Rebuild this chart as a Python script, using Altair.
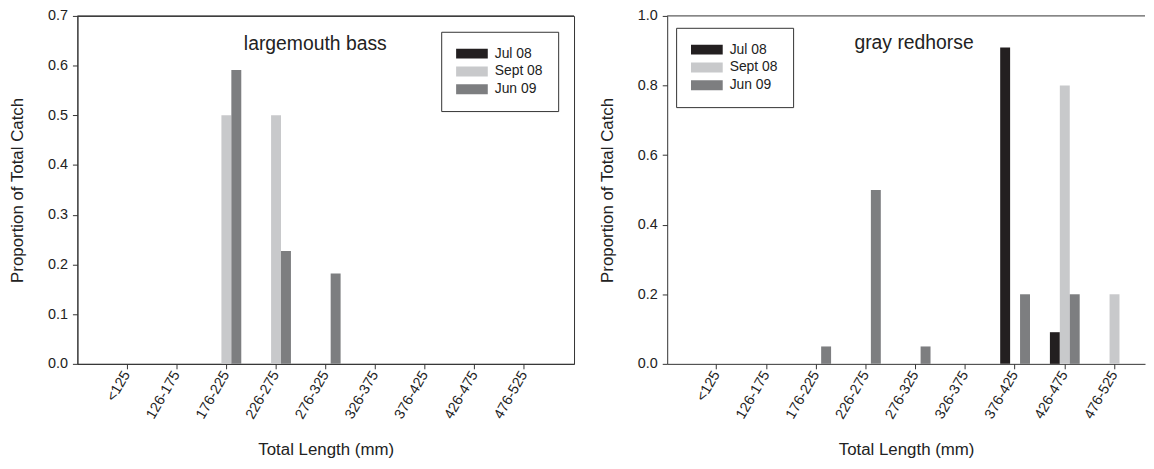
import altair as alt
import pandas as pd

categories = ["<125", "126-175", "176-225", "226-275", "276-325",
              "326-375", "376-425", "426-475", "476-525"]
series = ["Jul 08", "Sept 08", "Jun 09"]
colors = ["#231f20", "#c8c9cb", "#7d7e80"]

bass_jul08 = [0, 0, 0, 0, 0, 0, 0, 0, 0]
bass_sept08 = [0, 0, 0.5, 0.5, 0, 0, 0, 0, 0]
bass_jun09 = [0, 0, 0.591, 0.227, 0.182, 0, 0, 0, 0]

redhorse_jul08 = [0, 0, 0, 0, 0, 0, 0.909, 0.091, 0]
redhorse_sept08 = [0, 0, 0, 0, 0, 0, 0, 0.8, 0.2]
redhorse_jun09 = [0, 0, 0.05, 0.5, 0.05, 0, 0.2, 0.2, 0]

bass_ticks = [0.0, 0.1, 0.2, 0.3, 0.4, 0.5, 0.6, 0.7]
redhorse_ticks = [0.0, 0.2, 0.4, 0.6, 0.8, 1.0]

FONT = "Liberation Sans"
AXIS_COLOR = "#333333"
TEXT_COLOR = "#222222"


def frame(jul, sept, jun):
    rows = []
    for name, vals in zip(series, [jul, sept, jun]):
        for c, v in zip(categories, vals):
            rows.append({"length": c, "series": name, "value": v})
    return pd.DataFrame(rows)


def panel(df, title, ticks, width, x_scale, legend_x, legend_y,
          title_x, title_y):
    x = alt.X("length:N", sort=categories, scale=x_scale,
              axis=alt.Axis(title="Total Length (mm)", labelAngle=300,
                            labelAlign="right", labelBaseline="middle",
                            tickSize=5, labelPadding=3, titlePadding=21))
    y = alt.Y("value:Q",
              scale=alt.Scale(domain=[0, ticks[-1]], nice=False, zero=True),
              axis=alt.Axis(title="Proportion of Total Catch", values=ticks,
                            format=".1f", tickSize=5, labelPadding=5,
                            titlePadding=21, grid=False))
    bars = alt.Chart(df).mark_bar().encode(
        x=x,
        xOffset=alt.XOffset("series:N", sort=series,
                            scale=alt.Scale(domain=series, paddingInner=0,
                                            paddingOuter=1)),
        y=y,
        color=alt.Color(
            "series:N", sort=series,
            scale=alt.Scale(domain=series, range=colors),
            legend=alt.Legend(
                title=None, orient="none", legendX=legend_x,
                legendY=legend_y, direction="vertical",
                strokeColor=AXIS_COLOR, fillColor="white", padding=15,
                symbolType="M-1,-0.3125H1V0.3125H-1Z", symbolSize=1024,
                symbolStrokeWidth=0, clipHeight=14, rowPadding=4,
                labelOffset=7, labelFontSize=14, labelFont=FONT,
                labelColor=TEXT_COLOR, symbolOpacity=1)),
    )
    top = alt.Chart(pd.DataFrame({"value": [ticks[-1]]})).mark_rule(
        color=AXIS_COLOR, strokeWidth=1).encode(y=alt.Y("value:Q"))
    label = alt.Chart(pd.DataFrame({"t": [title]})).mark_text(
        fontSize=19.5, font=FONT, color=TEXT_COLOR, baseline="middle",
        align="center").encode(x=alt.value(title_x), y=alt.value(title_y),
                               text="t:N")
    return alt.layer(bars, top, label).properties(width=width, height=351)


left = panel(frame(bass_jul08, bass_sept08, bass_jun09), "largemouth bass",
             bass_ticks, 501,
             alt.Scale(paddingInner=0, paddingOuter=0.5),
             367, 16, 240, 28).properties(
    view=alt.ViewBackground(stroke=AXIS_COLOR, strokeWidth=1))

right = panel(frame(redhorse_jul08, redhorse_sept08, redhorse_jun09),
              "gray redhorse", redhorse_ticks, 482,
              alt.Scale(paddingInner=0, paddingOuter=0.3046, align=0.8154),
              9, 12, 249, 27)

chart = alt.hconcat(left, right, spacing=23).resolve_scale(
    color="independent"
).resolve_legend(color="independent").properties(
    padding={"left": 0, "top": -3, "right": 0, "bottom": 0}
).configure_view(stroke="transparent").configure_axis(
    domainColor=AXIS_COLOR, tickColor=AXIS_COLOR, labelColor=TEXT_COLOR,
    titleColor=TEXT_COLOR, labelFont=FONT, titleFont=FONT,
    labelFontSize=14.5, titleFontSize=17, titleFontWeight="normal",
    domainWidth=1, tickWidth=1
)

chart.save("out.html", embed_options={"renderer": "svg", "actions": False})
